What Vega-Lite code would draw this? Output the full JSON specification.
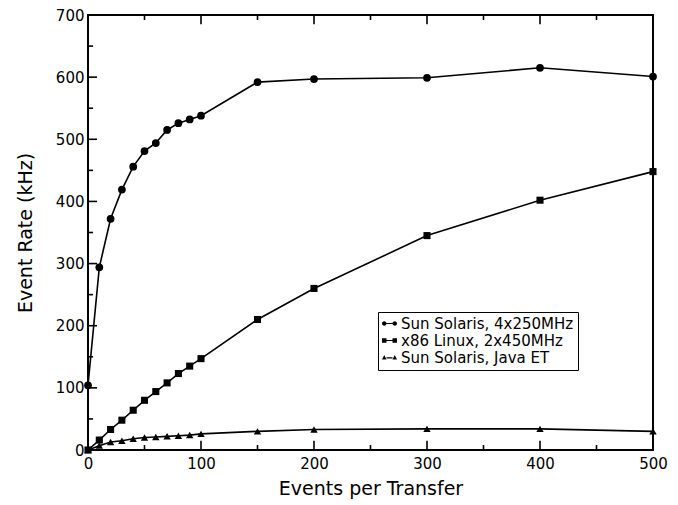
{
  "$schema": "https://vega.github.io/schema/vega-lite/v6.json",
  "autosize": "none",
  "width": 565,
  "height": 435,
  "padding": {"left": 88, "top": 15, "right": 25, "bottom": 55},
  "background": "white",
  "config": {
    "font": "DejaVu Sans",
    "view": {"stroke": "black", "strokeWidth": 2},
    "axis": {"grid": false, "domain": false, "ticks": false, "zindex": 1, "labelFlush": false, "labelColor": "black", "titleColor": "black", "labelFontSize": 15, "titleFontSize": 19, "titleFontWeight": "normal", "labelFont": "DejaVu Sans", "titleFont": "DejaVu Sans"}
  },
  "datasets": {
    "rates": [
      {"x": 0, "rate": 104, "series": "Sun Solaris, 4x250MHz"},
      {"x": 10, "rate": 294, "series": "Sun Solaris, 4x250MHz"},
      {"x": 20, "rate": 372, "series": "Sun Solaris, 4x250MHz"},
      {"x": 30, "rate": 419, "series": "Sun Solaris, 4x250MHz"},
      {"x": 40, "rate": 456, "series": "Sun Solaris, 4x250MHz"},
      {"x": 50, "rate": 481, "series": "Sun Solaris, 4x250MHz"},
      {"x": 60, "rate": 494, "series": "Sun Solaris, 4x250MHz"},
      {"x": 70, "rate": 515, "series": "Sun Solaris, 4x250MHz"},
      {"x": 80, "rate": 526, "series": "Sun Solaris, 4x250MHz"},
      {"x": 90, "rate": 532, "series": "Sun Solaris, 4x250MHz"},
      {"x": 100, "rate": 538, "series": "Sun Solaris, 4x250MHz"},
      {"x": 150, "rate": 592, "series": "Sun Solaris, 4x250MHz"},
      {"x": 200, "rate": 597, "series": "Sun Solaris, 4x250MHz"},
      {"x": 300, "rate": 599, "series": "Sun Solaris, 4x250MHz"},
      {"x": 400, "rate": 615, "series": "Sun Solaris, 4x250MHz"},
      {"x": 500, "rate": 601, "series": "Sun Solaris, 4x250MHz"},
      {"x": 0, "rate": 0, "series": "x86 Linux, 2x450MHz"},
      {"x": 10, "rate": 16, "series": "x86 Linux, 2x450MHz"},
      {"x": 20, "rate": 33, "series": "x86 Linux, 2x450MHz"},
      {"x": 30, "rate": 48, "series": "x86 Linux, 2x450MHz"},
      {"x": 40, "rate": 64, "series": "x86 Linux, 2x450MHz"},
      {"x": 50, "rate": 80, "series": "x86 Linux, 2x450MHz"},
      {"x": 60, "rate": 94, "series": "x86 Linux, 2x450MHz"},
      {"x": 70, "rate": 108, "series": "x86 Linux, 2x450MHz"},
      {"x": 80, "rate": 123, "series": "x86 Linux, 2x450MHz"},
      {"x": 90, "rate": 135, "series": "x86 Linux, 2x450MHz"},
      {"x": 100, "rate": 147, "series": "x86 Linux, 2x450MHz"},
      {"x": 150, "rate": 210, "series": "x86 Linux, 2x450MHz"},
      {"x": 200, "rate": 260, "series": "x86 Linux, 2x450MHz"},
      {"x": 300, "rate": 345, "series": "x86 Linux, 2x450MHz"},
      {"x": 400, "rate": 402, "series": "x86 Linux, 2x450MHz"},
      {"x": 500, "rate": 448, "series": "x86 Linux, 2x450MHz"},
      {"x": 0, "rate": 0, "series": "Sun Solaris, Java ET"},
      {"x": 10, "rate": 7, "series": "Sun Solaris, Java ET"},
      {"x": 20, "rate": 13, "series": "Sun Solaris, Java ET"},
      {"x": 30, "rate": 15, "series": "Sun Solaris, Java ET"},
      {"x": 40, "rate": 18, "series": "Sun Solaris, Java ET"},
      {"x": 50, "rate": 20, "series": "Sun Solaris, Java ET"},
      {"x": 60, "rate": 21, "series": "Sun Solaris, Java ET"},
      {"x": 70, "rate": 22, "series": "Sun Solaris, Java ET"},
      {"x": 80, "rate": 23, "series": "Sun Solaris, Java ET"},
      {"x": 90, "rate": 24, "series": "Sun Solaris, Java ET"},
      {"x": 100, "rate": 26, "series": "Sun Solaris, Java ET"},
      {"x": 150, "rate": 30, "series": "Sun Solaris, Java ET"},
      {"x": 200, "rate": 33, "series": "Sun Solaris, Java ET"},
      {"x": 300, "rate": 34, "series": "Sun Solaris, Java ET"},
      {"x": 400, "rate": 34, "series": "Sun Solaris, Java ET"},
      {"x": 500, "rate": 30, "series": "Sun Solaris, Java ET"}
    ],
    "xticks": [
      {"v": 50, "kind": "minor"}, {"v": 100, "kind": "major"}, {"v": 150, "kind": "minor"}, {"v": 200, "kind": "major"},
      {"v": 250, "kind": "minor"}, {"v": 300, "kind": "major"}, {"v": 350, "kind": "minor"}, {"v": 400, "kind": "major"},
      {"v": 450, "kind": "minor"}
    ],
    "yticks": [
      {"v": 50, "kind": "minor"}, {"v": 100, "kind": "major"}, {"v": 150, "kind": "minor"}, {"v": 200, "kind": "major"},
      {"v": 250, "kind": "minor"}, {"v": 300, "kind": "major"}, {"v": 350, "kind": "minor"}, {"v": 400, "kind": "major"},
      {"v": 450, "kind": "minor"}, {"v": 500, "kind": "major"}, {"v": 550, "kind": "minor"}, {"v": 600, "kind": "major"},
      {"v": 650, "kind": "minor"}
    ]
  },
  "data": {"name": "rates"},
  "resolve": {"axis": {"x": "independent", "y": "independent"}},
  "layer": [
    {
      "mark": {"type": "line", "color": "black", "strokeWidth": 1.6},
      "encoding": {
        "x": {"field": "x", "type": "quantitative", "scale": {"domain": [0, 500], "nice": false},
          "axis": {"orient": "bottom", "title": "Events per Transfer", "values": [0,100,200,300,400,500], "labelPadding": 6, "titlePadding": 8}},
        "y": {"field": "rate", "type": "quantitative", "scale": {"domain": [0, 700], "nice": false},
          "axis": {"orient": "left", "title": "Event Rate (kHz)", "values": [0,100,200,300,400,500,600,700], "labelPadding": 4, "titlePadding": 20}},
        "detail": {"field": "series"}
      }
    },
    {
      "data": {"name": "xticks"},
      "transform": [{"filter": "datum.kind === 'major'"}],
      "mark": {"type": "rule", "color": "black", "strokeWidth": 1.6},
      "encoding": {
        "x": {"field": "v", "type": "quantitative", "axis": null},
        "y": {"datum": 0, "type": "quantitative", "axis": null},
        "y2": {"datum": 15}
      }
    },
    {
      "data": {"name": "xticks"},
      "transform": [{"filter": "datum.kind === 'minor'"}],
      "mark": {"type": "rule", "color": "black", "strokeWidth": 1.6},
      "encoding": {
        "x": {"field": "v", "type": "quantitative", "axis": null},
        "y": {"datum": 0, "type": "quantitative", "axis": null},
        "y2": {"datum": 8}
      }
    },
    {
      "data": {"name": "xticks"},
      "transform": [{"filter": "datum.kind === 'major'"}],
      "mark": {"type": "rule", "color": "black", "strokeWidth": 1.6},
      "encoding": {
        "x": {"field": "v", "type": "quantitative", "axis": null},
        "y": {"datum": 700, "type": "quantitative", "axis": null},
        "y2": {"datum": 685}
      }
    },
    {
      "data": {"name": "xticks"},
      "transform": [{"filter": "datum.kind === 'minor'"}],
      "mark": {"type": "rule", "color": "black", "strokeWidth": 1.6},
      "encoding": {
        "x": {"field": "v", "type": "quantitative", "axis": null},
        "y": {"datum": 700, "type": "quantitative", "axis": null},
        "y2": {"datum": 692}
      }
    },
    {
      "data": {"name": "yticks"},
      "transform": [{"filter": "datum.kind === 'major'"}],
      "mark": {"type": "rule", "color": "black", "strokeWidth": 1.6},
      "encoding": {
        "y": {"field": "v", "type": "quantitative", "axis": null},
        "x": {"datum": 0, "type": "quantitative", "axis": null},
        "x2": {"datum": 8}
      }
    },
    {
      "data": {"name": "yticks"},
      "transform": [{"filter": "datum.kind === 'minor'"}],
      "mark": {"type": "rule", "color": "black", "strokeWidth": 1.6},
      "encoding": {
        "y": {"field": "v", "type": "quantitative", "axis": null},
        "x": {"datum": 0, "type": "quantitative", "axis": null},
        "x2": {"datum": 4.5}
      }
    },
    {
      "transform": [{"filter": "datum.series === 'Sun Solaris, 4x250MHz'"}],
      "mark": {"type": "point", "shape": "circle", "filled": true, "color": "black", "opacity": 1, "size": 60},
      "encoding": {
        "x": {"field": "x", "type": "quantitative", "axis": null},
        "y": {"field": "rate", "type": "quantitative", "axis": null}
      }
    },
    {
      "transform": [{"filter": "datum.series === 'x86 Linux, 2x450MHz'"}],
      "mark": {"type": "point", "shape": "square", "filled": true, "color": "black", "opacity": 1, "size": 50},
      "encoding": {
        "x": {"field": "x", "type": "quantitative", "axis": null},
        "y": {"field": "rate", "type": "quantitative", "axis": null}
      }
    },
    {
      "transform": [{"filter": "datum.series === 'Sun Solaris, Java ET'"}],
      "mark": {"type": "point", "shape": "triangle-up", "filled": true, "color": "black", "opacity": 1, "size": 55},
      "encoding": {
        "x": {"field": "x", "type": "quantitative", "axis": null},
        "y": {"field": "rate", "type": "quantitative", "axis": null}
      }
    },
    {
      "transform": [{"filter": "datum.x < 0"}],
      "mark": {"type": "point", "filled": true, "color": "black", "opacity": 1},
      "encoding": {
        "x": {"field": "x", "type": "quantitative", "axis": null},
        "y": {"field": "rate", "type": "quantitative", "axis": null},
        "shape": {"field": "series", "type": "nominal",
          "scale": {"domain": ["Sun Solaris, 4x250MHz", "x86 Linux, 2x450MHz", "Sun Solaris, Java ET"],
            "range": [
              "M-1,0A0.3,0.3 0 1,1 -0.4,0A0.3,0.3 0 1,1 -1,0Z M-0.4,-0.08H0.4V0.08H-0.4Z M0.4,0A0.3,0.3 0 1,1 1,0A0.3,0.3 0 1,1 0.4,0Z",
              "M-1,-0.3H-0.4V0.3H-1Z M-0.4,-0.08H0.4V0.08H-0.4Z M0.4,-0.3H1V0.3H0.4Z",
              "M-1,0.26L-0.7,-0.32L-0.4,0.26Z M-0.4,-0.02H0.4V0.12H-0.4Z M0.4,0.26L0.7,-0.32L1,0.26Z"
            ]},
          "legend": {"title": null, "orient": "none", "legendX": 290, "legendY": 297, "strokeColor": "black", "padding": 4, "rowPadding": 1, "symbolSize": 225, "symbolStrokeWidth": 0, "labelFontSize": 15, "labelFont": "DejaVu Sans", "labelColor": "black", "labelLimit": 400, "labelOffset": 4}
        }
      }
    }
  ]
}
